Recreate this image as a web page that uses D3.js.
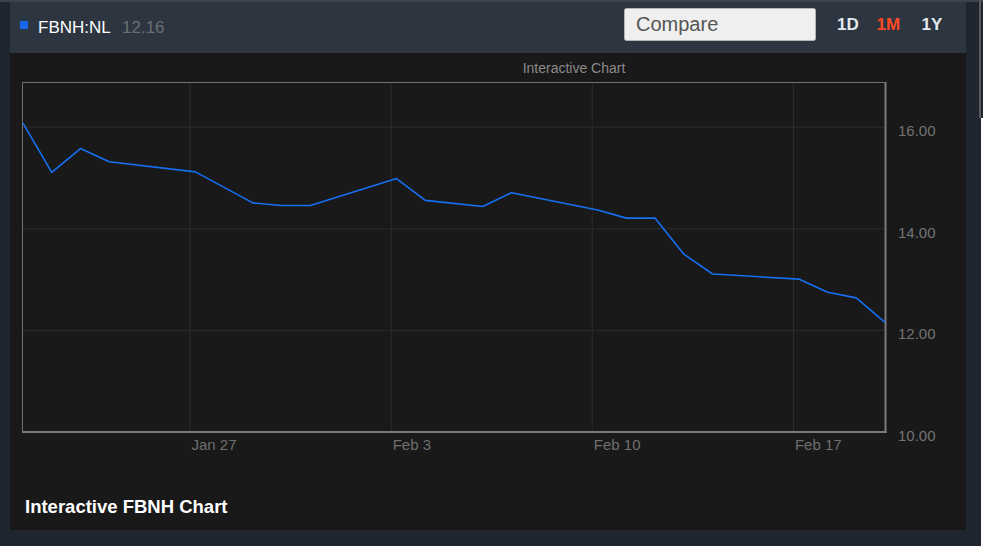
<!DOCTYPE html>
<html>
<head>
<meta charset="utf-8">
<script src="https://cdn.jsdelivr.net/npm/d3@7"></script>
<style>
  html, body { margin: 0; padding: 0; background: #1f2630; overflow: hidden; }
  svg { display: block; font-family: "Liberation Sans", Arial, sans-serif; }
</style>
</head>
<body>
<div id="chart"></div>
<script>
// data (daily closes, FBNH:NL)
var dates = ["2020-01-21", "2020-01-22", "2020-01-23", "2020-01-24", "2020-01-27",
  "2020-01-29", "2020-01-30", "2020-01-31", "2020-02-03", "2020-02-04",
  "2020-02-06", "2020-02-07", "2020-02-10", "2020-02-11", "2020-02-12",
  "2020-02-13", "2020-02-14", "2020-02-17", "2020-02-18", "2020-02-19", "2020-02-20"];
var closes = [16.08, 15.11, 15.58, 15.32, 15.12,
  14.51, 14.46, 14.46, 14.99, 14.56,
  14.44, 14.71, 14.37, 14.21, 14.21,
  13.50, 13.11, 13.01, 12.75, 12.64, 12.16];
var tickDates = ["2020-01-27", "2020-02-03", "2020-02-10", "2020-02-17"];
var tickLabels = ["Jan 27", "Feb 3", "Feb 10", "Feb 17"];
var yTicks = [10, 12, 14, 16];
var ranges = ["1D", "1M", "1Y"];
var activeRange = "1M";
var symbol = "FBNH:NL";
var lastPrice = "12.16";

var svgWidth = 983;
var svgHeight = 546;

// plot frame
var margin = { top: 82, right: 98, bottom: 114, left: 23 };
var width = svgWidth - margin.left - margin.right;
var height = svgHeight - margin.top - margin.bottom;

// closes are stamped a few hours after midnight, gridlines sit on midnight
var closeHour = 4.5;
var parseDay = d3.utcParse("%Y-%m-%d");
function closeTime(s) { return d3.utcMinute.offset(parseDay(s), closeHour * 60); }

var data = dates.map(function(d, i) {
  return { date: closeTime(d), close: closes[i] };
});

var svg = d3.select("#chart")
  .append("svg")
  .attr("width", svgWidth)
  .attr("height", svgHeight);

// page chrome
svg.append("rect").attr("x", 0).attr("y", 0).attr("width", svgWidth).attr("height", 2).attr("fill", "#3b444e");
svg.append("rect").attr("x", 10).attr("y", 2).attr("width", 956).attr("height", 51).attr("fill", "#2c3540");
svg.append("rect").attr("x", 10).attr("y", 53).attr("width", 956).attr("height", 477).attr("fill", "#191919");
svg.append("rect").attr("x", 981).attr("y", 118).attr("width", 2).attr("height", svgHeight - 118).attr("fill", "#ffffff");
svg.append("rect").attr("x", 979).attr("y", 0).attr("width", 2).attr("height", 118).attr("fill", "#5a5a5a");

// header
svg.append("rect").attr("x", 20).attr("y", 21).attr("width", 8).attr("height", 8).attr("fill", "#1668f0");
svg.append("text").attr("x", 38).attr("y", 33).attr("fill", "#ffffff")
  .style("font-size", "17px").text(symbol);
svg.append("text").attr("x", 122).attr("y", 33).attr("fill", "#6a6f75")
  .style("font-size", "17px").text(lastPrice);

svg.append("rect").attr("x", 624.5).attr("y", 8.5).attr("width", 191).attr("height", 32).attr("rx", 2)
  .attr("fill", "#efefef").attr("stroke", "#b5b5b5");
svg.append("text").attr("x", 636).attr("y", 30.5).attr("fill", "#555555")
  .style("font-size", "20px").text("Compare");

var rangeX = [837, 876.5, 921.5];
svg.selectAll(".range")
  .data(ranges)
  .enter()
  .append("text")
  .attr("class", "range")
  .attr("x", function(d, i) { return rangeX[i]; })
  .attr("y", 30)
  .attr("fill", function(d) { return d === activeRange ? "#ff4a26" : "#e4e9ef"; })
  .style("font-size", "17px")
  .style("font-weight", "bold")
  .text(function(d) { return d; });

svg.append("text").attr("x", 574).attr("y", 73).attr("text-anchor", "middle")
  .attr("fill", "#8a8a8a").style("font-size", "14px").text("Interactive Chart");

var chartGroup = svg.append("g")
  .attr("transform", `translate(${margin.left}, ${margin.top})`);

// scales
var xTimeScale = d3.scaleUtc()
  .domain(d3.extent(data, d => d.date))
  .range([0, width]);

var yLinearScale = d3.scaleLinear()
  .domain([10, 16.89])
  .range([height, 0]);

var tickTimes = tickDates.map(parseDay);

// gridlines
chartGroup.append("g")
  .selectAll("line")
  .data(yTicks.slice(1))
  .enter()
  .append("line")
  .attr("x1", 0).attr("x2", width)
  .attr("y1", d => yLinearScale(d)).attr("y2", d => yLinearScale(d))
  .attr("stroke", "#2c2c2c");

chartGroup.append("g")
  .selectAll("line")
  .data(tickTimes)
  .enter()
  .append("line")
  .attr("x1", d => xTimeScale(d)).attr("x2", d => xTimeScale(d))
  .attr("y1", 0).attr("y2", height)
  .attr("stroke", "#2c2c2c");

// axes
var bottomAxis = d3.axisBottom(xTimeScale)
  .tickValues(tickTimes)
  .tickSize(0)
  .tickFormat(function(d, i) { return tickLabels[i]; });

var rightAxis = d3.axisRight(yLinearScale)
  .tickValues(yTicks)
  .tickSize(0)
  .tickFormat(d3.format(".2f"));

var xAxisG = chartGroup.append("g")
  .attr("transform", `translate(0, ${height})`)
  .call(bottomAxis);
xAxisG.select(".domain").remove();
xAxisG.selectAll("text")
  .attr("text-anchor", "start")
  .attr("x", 1)
  .attr("y", 18)
  .attr("dy", 0)
  .attr("fill", "#6f6f6f")
  .style("font-size", "15px")
  .style("font-family", "'Liberation Sans', Arial, sans-serif");

var yAxisG = chartGroup.append("g")
  .attr("transform", `translate(${width}, 0)`)
  .call(rightAxis);
yAxisG.select(".domain").remove();
yAxisG.selectAll("text")
  .attr("x", 13)
  .attr("dy", 0)
  .attr("y", 8.5)
  .attr("fill", "#747474")
  .style("font-size", "15px")
  .style("font-family", "'Liberation Sans', Arial, sans-serif");

// frame
chartGroup.append("line").attr("x1", 0).attr("x2", width).attr("y1", 0.5).attr("y2", 0.5).attr("stroke", "#707070");
chartGroup.append("line").attr("x1", -0.5).attr("x2", -0.5).attr("y1", 0).attr("y2", height).attr("stroke", "#707070");
chartGroup.append("line").attr("x1", width + 0.5).attr("x2", width + 0.5).attr("y1", 0).attr("y2", height + 1)
  .attr("stroke", "#7a7a7a").attr("stroke-width", 2);
chartGroup.append("line").attr("x1", -1).attr("x2", width + 1.5).attr("y1", height).attr("y2", height)
  .attr("stroke", "#7a7a7a").attr("stroke-width", 2);

// price line
var line = d3.line()
  .x(d => xTimeScale(d.date))
  .y(d => yLinearScale(d.close));

chartGroup.append("path")
  .datum(data)
  .attr("d", line)
  .attr("fill", "none")
  .attr("stroke", "#1670f2")
  .attr("stroke-width", 1.6)
  .attr("stroke-linejoin", "round");

// footer title
svg.append("text").attr("x", 25).attr("y", 512.5).attr("fill", "#ffffff")
  .style("font-size", "18.5px").style("font-weight", "bold").text("Interactive FBNH Chart");
</script>
</body>
</html>
